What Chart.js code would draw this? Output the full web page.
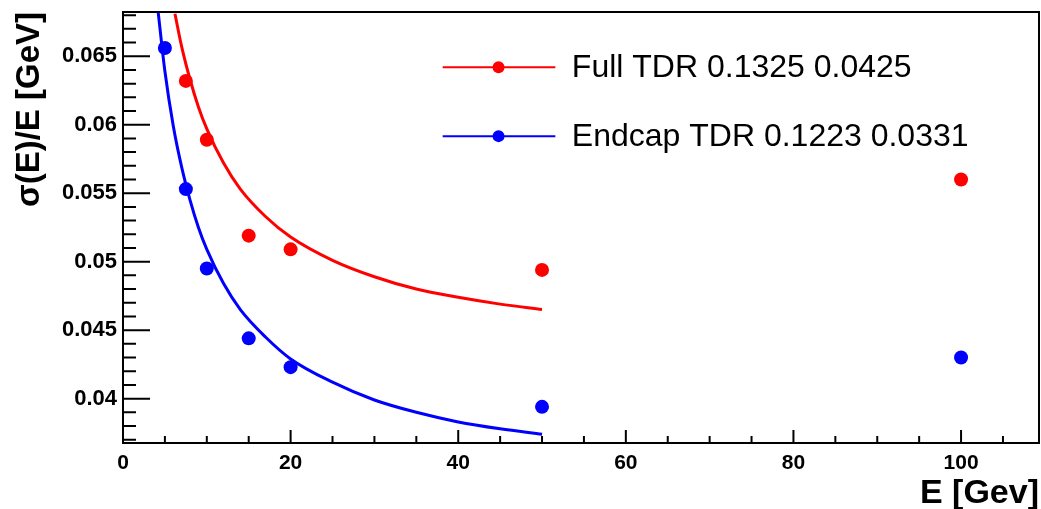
<!DOCTYPE html>
<html>
<head>
<meta charset="utf-8">
<style>
  body { margin: 0; background: #fff; }
</style>
</head>
<body>
<canvas id="resChart" width="1041" height="509"></canvas>
<script src="https://cdn.jsdelivr.net/npm/chart.js"></script>
<script>
// measured points
const fullEnergy = [7.5, 10, 15, 20, 50, 100];
const fullRes = [0.0632, 0.0589, 0.0519, 0.0509, 0.0494, 0.0560];
const endcapEnergy = [5, 7.5, 10, 15, 20, 50, 100];
const endcapRes = [0.0656, 0.0553, 0.0495, 0.0444, 0.0423, 0.0394, 0.0430];

// fit curves
const fullFitE = [6.2, 7, 8, 9, 10, 12, 14, 17, 20, 25, 30, 35, 40, 45, 50];
const fullFitRes = [0.0681, 0.0657, 0.0633, 0.0613, 0.0597, 0.0572, 0.0553, 0.0533, 0.0518, 0.0501, 0.0489, 0.0480, 0.0474, 0.0469, 0.0465];
const endcapFitE = [4.2, 5, 6, 7, 8, 9, 10, 12, 14, 17, 20, 25, 30, 35, 40, 45, 50];
const endcapFitRes = [0.0682, 0.0639, 0.0599, 0.0569, 0.0545, 0.0525, 0.0509, 0.0484, 0.0465, 0.0445, 0.0429, 0.0412, 0.0399, 0.0390, 0.0383, 0.0378, 0.0374];

const legendLabels = ['Full TDR 0.1325 0.0425', 'Endcap TDR 0.1223 0.0331'];
const xTicks = [0, 20, 40, 60, 80, 100];
const yTicks = [0.04, 0.045, 0.05, 0.055, 0.06, 0.065];

const RED = '#ff0000';
const BLUE = '#0000ff';
const FONT = '"Liberation Sans", Arial, Helvetica, sans-serif';

function pairs(xs, ys) {
    return xs.map((v, i) => ({ x: v, y: ys[i] }));
}

// ROOT-like frame, inner ticks and legend box
const rootFrame = {
    id: 'rootFrame',
    afterDatasetsDraw(chart) {
        const { ctx, chartArea: a, scales: { x, y } } = chart;
        ctx.save();
        ctx.strokeStyle = '#000';
        ctx.lineWidth = 2;
        ctx.strokeRect(a.left, a.top, a.right - a.left, a.bottom - a.top);

        ctx.beginPath();
        for (let v = 0; v <= x.max; v += 5) {
            const px = x.getPixelForValue(v);
            const len = v % 20 === 0 ? 13 : 7;
            ctx.moveTo(px, a.bottom);
            ctx.lineTo(px, a.bottom - len);
        }
        for (let i = 37; i <= 68; i++) {
            const py = y.getPixelForValue(i / 1000);
            const len = i % 5 === 0 ? 27 : 13;
            ctx.moveTo(a.left, py);
            ctx.lineTo(a.left + len, py);
        }
        ctx.stroke();

        // legend
        const w = a.right - a.left, h = a.bottom - a.top;
        const rows = [0.128, 0.288];
        [0, 1].forEach((k) => {
            const ds = chart.data.datasets[k];
            const ly = a.top + rows[k] * h;
            ctx.strokeStyle = ds.borderColor;
            ctx.lineWidth = 2;
            ctx.beginPath();
            ctx.moveTo(a.left + 0.349 * w, ly);
            ctx.lineTo(a.left + 0.472 * w, ly);
            ctx.stroke();
            ctx.fillStyle = ds.backgroundColor;
            ctx.beginPath();
            ctx.arc(a.left + 0.41 * w, ly, 6, 0, Math.PI * 2);
            ctx.fill();
            ctx.fillStyle = '#000';
            ctx.font = '32px ' + FONT;
            ctx.textBaseline = 'middle';
            ctx.textAlign = 'left';
            ctx.fillText(legendLabels[k], a.left + 0.49 * w, ly + 1);
        });
        ctx.restore();
    }
};

const chart = new Chart(document.getElementById('resChart'), {
    type: 'scatter',
    data: {
        datasets: [
            {
                label: legendLabels[0],
                data: pairs(fullEnergy, fullRes),
                backgroundColor: RED,
                borderColor: RED,
                pointRadius: 7,
                pointBorderWidth: 0,
                showLine: false
            },
            {
                label: legendLabels[1],
                data: pairs(endcapEnergy, endcapRes),
                backgroundColor: BLUE,
                borderColor: BLUE,
                pointRadius: 7,
                pointBorderWidth: 0,
                showLine: false
            },
            {
                label: 'Full fit',
                data: pairs(fullFitE, fullFitRes),
                borderColor: RED,
                borderWidth: 3,
                pointRadius: 0,
                showLine: true,
                cubicInterpolationMode: 'monotone'
            },
            {
                label: 'Endcap fit',
                data: pairs(endcapFitE, endcapFitRes),
                borderColor: BLUE,
                borderWidth: 3,
                pointRadius: 0,
                showLine: true,
                cubicInterpolationMode: 'monotone'
            }
        ]
    },
    options: {
        responsive: false,
        animation: false,
        layout: {
            autoPadding: false,
            padding: { top: 12, right: 2, left: 0, bottom: 0 }
        },
        plugins: {
            legend: { display: false },
            tooltip: { enabled: false }
        },
        scales: {
            x: {
                type: 'linear',
                min: 0,
                max: 109.3,
                grid: { display: false, drawTicks: false },
                border: { display: false },
                afterBuildTicks: (s) => { s.ticks = xTicks.map(v => ({ value: v })); },
                afterFit: (s) => {
                    s.height = 66;
                    s.paddingLeft = 0;
                    s.paddingRight = 0;
                },
                ticks: {
                    color: '#000',
                    padding: 8,
                    maxRotation: 0,
                    font: { family: FONT, size: 21, weight: 'bold' }
                },
                title: {
                    display: true,
                    text: 'E [Gev]',
                    align: 'end',
                    color: '#000',
                    padding: { top: 0, bottom: -5 },
                    font: { family: FONT, size: 34, weight: 'bold' }
                }
            },
            y: {
                type: 'linear',
                min: 0.03676,
                max: 0.06823,
                grid: { display: false, drawTicks: false },
                border: { display: false },
                afterBuildTicks: (s) => { s.ticks = yTicks.map(v => ({ value: v })); },
                afterFit: (s) => {
                    s.width = 123;
                    s.paddingTop = 0;
                    s.paddingBottom = 0;
                },
                ticks: {
                    color: '#000',
                    padding: 6,
                    font: { family: FONT, size: 22, weight: 'bold' },
                    callback: (v) => String(+v.toFixed(3))
                },
                title: {
                    display: true,
                    text: 'σ(E)/E [GeV]',
                    align: 'end',
                    color: '#000',
                    padding: { top: 10, bottom: 0 },
                    font: { family: FONT, size: 33, weight: 'bold' }
                }
            }
        }
    },
    plugins: [rootFrame]
});
</script>
</body>
</html>
